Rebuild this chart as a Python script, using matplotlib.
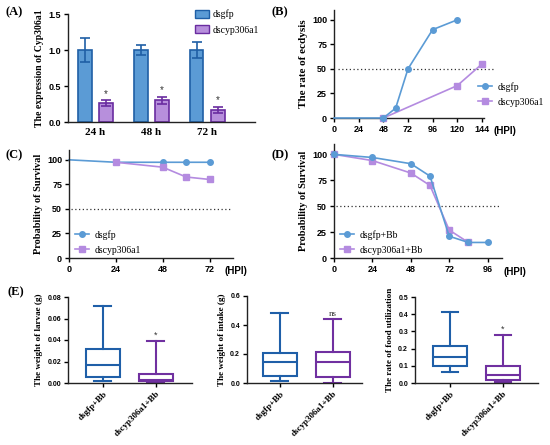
import matplotlib
matplotlib.use("Agg")
import matplotlib.pyplot as plt
from matplotlib.lines import Line2D
from matplotlib.patches import Patch
import numpy as np

# ---------------- data ----------------
a_groups = ["24 h", "48 h", "72 h"]
a_gfp = [1.0, 1.0, 1.0]
a_gfp_err = [0.16, 0.07, 0.11]
a_cyp = [0.26, 0.30, 0.17]
a_cyp_err = [0.04, 0.05, 0.04]

b_gfp_x = [0, 24, 48, 60, 72, 96, 120]
b_gfp_y = [0, 0, 0, 10, 50, 90, 100]
b_cyp_x = [48, 120, 144]
b_cyp_y = [0, 33, 55]

c_gfp_x = [0, 24, 48, 60, 72]
c_gfp_y = [100, 97.5, 97.5, 97.5, 97.5]
c_cyp_x = [24, 48, 60, 72]
c_cyp_y = [97.5, 92.5, 82.5, 80]

d_gfp_x = [0, 24, 48, 60, 72, 84, 96]
d_gfp_y = [100, 97, 91, 79, 21, 15, 15]
d_cyp_x = [0, 24, 48, 60, 72, 84]
d_cyp_y = [100, 94, 82, 70, 27, 15]

e_labels = ["dsgfp+Bb", "dscyp306a1+Bb"]
# (whislo, q1, med, q3, whishi)
e1_gfp = [0.0015, 0.006, 0.017, 0.032, 0.072]
e1_cyp = [0.0005, 0.002, 0.003, 0.008, 0.039]
e2_gfp = [0.015, 0.045, 0.145, 0.21, 0.485]
e2_cyp = [0.0, 0.04, 0.145, 0.215, 0.44]
e3_gfp = [0.065, 0.10, 0.15, 0.215, 0.415]
e3_cyp = [0.005, 0.015, 0.045, 0.10, 0.28]

# ---------------- style ----------------
SERIF = "Liberation Serif"
SANS = "Liberation Sans"
BLUE_FILL = "#5b9bd5"
BLUE_EDGE = "#1f5fa6"
PUR_FILL = "#b78fdc"
PUR_EDGE = "#6a2ca0"
LBLUE = "#5b9bd5"
LPUR = "#b48be0"
BOX_BLUE = "#1f5fa8"
BOX_PUR = "#7030a0"

W, H = 550, 445
fig = plt.figure(figsize=(W / 100, H / 100), dpi=100)


def add_ax(x0, y_top, x1, y_bot):
    return fig.add_axes([x0 / W, 1 - y_bot / H, (x1 - x0) / W, (y_bot - y_top) / H])


def style(ax, tick_size=6.5):
    ax.spines["top"].set_visible(False)
    ax.spines["right"].set_visible(False)
    for s in ("left", "bottom"):
        ax.spines[s].set_linewidth(1.0)
        ax.spines[s].set_color("#222222")
    ax.tick_params(direction="out", length=3, width=1.0, labelsize=tick_size, pad=2)
    for lab in ax.get_xticklabels() + ax.get_yticklabels():
        lab.set_fontfamily(SANS)
        lab.set_fontweight("bold")


def line_legend(ax, labels, anchor, loc):
    ax.legend(handles=[Line2D([], [], color=LBLUE, marker="o", ms=4, lw=1.2, label=labels[0]),
                       Line2D([], [], color=LPUR, marker="s", ms=4, lw=1.2, label=labels[1])],
              loc=loc, bbox_to_anchor=anchor, frameon=False,
              prop=dict(family=SERIF, size=7), handlelength=1.4, handletextpad=0.6,
              labelspacing=0.6, borderaxespad=0, borderpad=0)


# ---------------- (A) ----------------
axA = add_ax(68, 14, 255, 122)
xg = np.arange(len(a_groups))
off, bw = 0.19, 0.24
axA.bar(xg - off, a_gfp, bw, color=BLUE_FILL, edgecolor=BLUE_EDGE, linewidth=1.2,
        yerr=a_gfp_err, error_kw=dict(ecolor=BLUE_EDGE, elinewidth=1.2, capsize=3.5, capthick=1.2))
axA.bar(xg + off, a_cyp, bw, color=PUR_FILL, edgecolor=PUR_EDGE, linewidth=1.2,
        yerr=a_cyp_err, error_kw=dict(ecolor=PUR_EDGE, elinewidth=1.2, capsize=3.5, capthick=1.2))
for i in range(len(a_groups)):
    axA.text(xg[i] + off, a_cyp[i] + a_cyp_err[i] + 0.02, "*", ha="center", va="bottom",
             fontsize=7, fontfamily=SANS, color="#333333")
axA.set_xlim(-0.49, 2.85)
axA.set_ylim(0, 1.5)
axA.set_yticks([0.0, 0.5, 1.0, 1.5])
axA.set_xticks(xg)
axA.set_xticklabels(a_groups)
style(axA)
for lab in axA.get_xticklabels():
    lab.set_fontfamily(SERIF)
    lab.set_fontsize(8)
axA.tick_params(axis="x", length=0, pad=4)
axA.set_ylabel("The expression of Cyp306a1", fontfamily=SERIF, fontweight="bold", fontsize=7, labelpad=3)
axA.legend(handles=[Patch(facecolor=BLUE_FILL, edgecolor=BLUE_EDGE, label="dsgfp"),
                    Patch(facecolor=PUR_FILL, edgecolor=PUR_EDGE, label="dscyp306a1")],
           loc="upper left", bbox_to_anchor=(0.68, 1.04), frameon=False,
           prop=dict(family=SERIF, size=7), handlelength=1.4, handleheight=0.9,
           handletextpad=0.4, labelspacing=0.6, borderaxespad=0, borderpad=0)

# ---------------- (B) ----------------
axB = add_ax(334, 10, 484, 118)
axB.plot(b_gfp_x, b_gfp_y, color=LBLUE, lw=1.2, marker="o", ms=4, markevery=list(range(2, len(b_gfp_x))),
         zorder=3, clip_on=False)
axB.plot(b_cyp_x, b_cyp_y, color=LPUR, lw=1.2, marker="s", ms=4, zorder=2, clip_on=False)
axB.plot([4, 156], [50, 50], ls=(0, (1, 2)), color="#333333", lw=0.9, zorder=1, clip_on=False)
axB.set_xlim(0, 146)
axB.set_ylim(0, 110)
axB.set_xticks([0, 24, 48, 72, 96, 120, 144])
axB.set_yticks([0, 25, 50, 75, 100])
style(axB)
axB.set_ylabel("The rate of ecdysis", fontfamily=SERIF, fontweight="bold", fontsize=8, labelpad=3)
axB.text(1.06, -0.075, "(HPI)", transform=axB.transAxes, fontfamily=SANS, fontweight="bold",
         fontsize=7, va="top", ha="left")
line_legend(axB, ["dsgfp", "dscyp306a1"], ((478 - 334) / 150, (118 - 82) / 108), "upper left")

# ---------------- (C) ----------------
axC = add_ax(69, 150, 233, 258)
axC.plot(c_gfp_x, c_gfp_y, color=LBLUE, lw=1.2, marker="o", ms=4, markevery=list(range(1, len(c_gfp_x))),
         zorder=2, clip_on=False)
axC.plot(c_cyp_x, c_cyp_y, color=LPUR, lw=1.2, marker="s", ms=4, zorder=3, clip_on=False)
axC.plot([1, 83], [50, 50], ls=(0, (1, 2)), color="#333333", lw=0.9, zorder=1)
axC.set_xlim(0, 84)
axC.set_ylim(0, 110)
axC.set_xticks([0, 24, 48, 72])
axC.set_yticks([0, 25, 50, 75, 100])
style(axC)
axC.set_ylabel("Probability of Survival", fontfamily=SERIF, fontweight="bold", fontsize=7.4, labelpad=3)
axC.text((225 - 69) / 164, -0.075, "(HPI)", transform=axC.transAxes, fontfamily=SANS, fontweight="bold",
         fontsize=7, va="top", ha="left")
line_legend(axC, ["dsgfp", "dscyp306a1"], ((75 - 69) / 164, (258 - 230) / 108), "upper left")

# ---------------- (D) ----------------
axD = add_ax(334, 144, 502, 258)
axD.plot(d_gfp_x, d_gfp_y, color=LBLUE, lw=1.2, marker="o", ms=4, zorder=3, clip_on=False)
axD.plot(d_cyp_x, d_cyp_y, color=LPUR, lw=1.2, marker="s", ms=4, zorder=2, clip_on=False)
axD.plot([1, 104], [50, 50], ls=(0, (1, 2)), color="#333333", lw=0.9, zorder=1)
axD.set_xlim(0, 105)
axD.set_ylim(0, 110)
axD.set_xticks([0, 24, 48, 72, 96])
axD.set_yticks([0, 25, 50, 75, 100])
style(axD)
axD.set_ylabel("Probability of Survival", fontfamily=SERIF, fontweight="bold", fontsize=7.4, labelpad=3)
axD.text(1.01, -0.075, "(HPI)", transform=axD.transAxes, fontfamily=SANS, fontweight="bold",
         fontsize=7, va="top", ha="left")
line_legend(axD, ["dsgfp+Bb", "dscyp306a1+Bb"], ((340 - 334) / 168, (258 - 230) / 114), "upper left")


# ---------------- (E) ----------------
def stats(v, label):
    return dict(whislo=v[0], q1=v[1], med=v[2], q3=v[3], whishi=v[4], fliers=[], label=label)


def box_panel(rect, gfp, cyp, ylim, yticks, ylabel, xlim, note, note_y):
    ax = add_ax(*rect)
    for pos, v, col, lab in ((1, gfp, BOX_BLUE, e_labels[0]), (2, cyp, BOX_PUR, e_labels[1])):
        lw = 1.5
        ax.bxp([stats(v, lab)], positions=[pos], widths=0.64, showfliers=False, patch_artist=True,
               boxprops=dict(facecolor="white", edgecolor=col, linewidth=lw),
               medianprops=dict(color=col, linewidth=lw),
               whiskerprops=dict(color=col, linewidth=lw),
               capprops=dict(color=col, linewidth=lw),
               manage_ticks=False)
    ax.set_xlim(*xlim)
    ax.set_ylim(*ylim)
    ax.set_yticks(yticks)
    ax.set_xticks([1, 2])
    ax.set_xticklabels(e_labels)
    style(ax, tick_size=5)
    ax.tick_params(axis="x", length=3)
    for lab in ax.get_xticklabels():
        lab.set_fontfamily(SERIF)
        lab.set_fontsize(6.5)
        lab.set_rotation(45)
        lab.set_ha("right")
        lab.set_rotation_mode("anchor")
    ax.set_ylabel(ylabel, fontfamily=SERIF, fontweight="bold", fontsize=6.6, labelpad=3)
    ax.text(2, note_y, note, ha="center", va="bottom", fontsize=6.5,
            fontfamily=SERIF if note == "ns" else SANS, color="#333333")
    return ax


box_panel((68, 297, 192, 383), e1_gfp, e1_cyp, (0, 0.08), [0.0, 0.02, 0.04, 0.06, 0.08],
          "The weight of larvae (g)", (0.34, 2.68), "*", 0.040)
box_panel((247, 296, 362, 383), e2_gfp, e2_cyp, (0, 0.6), [0.0, 0.2, 0.4, 0.6],
          "The weight of intake (g)", (0.38, 2.55), "ns", 0.445)
box_panel((415, 297, 538, 383), e3_gfp, e3_cyp, (0, 0.5), [0.0, 0.1, 0.2, 0.3, 0.4, 0.5],
          "The rate of food utilization", (0.34, 2.66), "*", 0.285)

# ---------------- panel labels ----------------
for txt, x, y in (("(A)", 5, 12), ("(B)", 272, 12), ("(C)", 5, 155), ("(D)", 272, 155), ("(E)", 7, 292)):
    fig.text(x / W, 1 - y / H, txt, fontfamily=SERIF, fontweight="bold", fontsize=9, va="center", ha="left")

fig.savefig("out.png", dpi=100)
